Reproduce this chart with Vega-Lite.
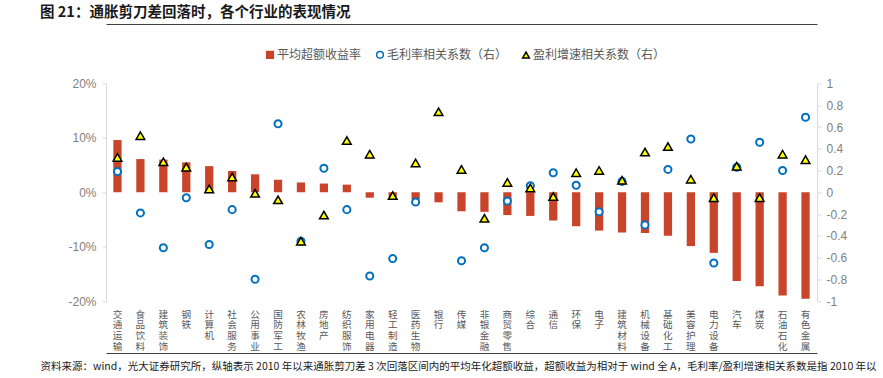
{
  "$schema": "https://vega.github.io/schema/vega-lite/v6.json",
  "width": 711,
  "height": 217.5,
  "autosize": "none",
  "padding": {"left": 106, "top": 83.5, "right": 66, "bottom": 77},
  "background": "white",
  "config": {
    "view": {"stroke": null},
    "font": "Noto Sans CJK SC",
    "legend": {
      "orient": "none",
      "direction": "horizontal",
      "legendX": 158,
      "legendY": -35,
      "title": null,
      "labelFontSize": 12,
      "labelColor": "#595959",
      "labelFont": "Noto Sans CJK SC",
      "symbolSize": 45,
      "symbolStrokeWidth": 1.5,
      "columnPadding": 11,
      "labelOffset": 1
    }
  },
  "title": {
    "text": "图 21：通胀剪刀差回落时，各个行业的表现情况",
    "anchor": "start",
    "frame": "group",
    "dx": -66,
    "offset": 4,
    "fontSize": 14.5,
    "fontWeight": "bold",
    "color": "#1a1a1a",
    "font": "Noto Sans CJK SC"
  },
  "data": {
    "values": [
      {"industry": "交通运输", "excess": 0.096, "gm": 0.19, "profit": 0.32},
      {"industry": "食品饮料", "excess": 0.061, "gm": -0.19, "profit": 0.52},
      {"industry": "建筑装饰", "excess": 0.060, "gm": -0.51, "profit": 0.28},
      {"industry": "钢铁", "excess": 0.055, "gm": -0.05, "profit": 0.23},
      {"industry": "计算机", "excess": 0.048, "gm": -0.48, "profit": 0.03},
      {"industry": "社会服务", "excess": 0.039, "gm": -0.16, "profit": 0.14},
      {"industry": "公用事业", "excess": 0.033, "gm": -0.80, "profit": -0.01},
      {"industry": "国防军工", "excess": 0.023, "gm": 0.63, "profit": -0.07},
      {"industry": "农林牧渔", "excess": 0.018, "gm": -0.45, "profit": -0.45},
      {"industry": "房地产", "excess": 0.016, "gm": 0.22, "profit": -0.21},
      {"industry": "纺织服饰", "excess": 0.014, "gm": -0.16, "profit": 0.475},
      {"industry": "家用电器", "excess": -0.010, "gm": -0.77, "profit": 0.35},
      {"industry": "轻工制造", "excess": -0.008, "gm": -0.61, "profit": -0.03},
      {"industry": "医药生物", "excess": -0.013, "gm": -0.09, "profit": 0.27},
      {"industry": "银行", "excess": -0.0185, "gm": null, "profit": 0.74},
      {"industry": "传媒", "excess": -0.035, "gm": -0.63, "profit": 0.21},
      {"industry": "非银金融", "excess": -0.036, "gm": -0.51, "profit": -0.24},
      {"industry": "商贸零售", "excess": -0.042, "gm": -0.08, "profit": 0.09},
      {"industry": "综合", "excess": -0.0435, "gm": 0.06, "profit": 0.04},
      {"industry": "通信", "excess": -0.052, "gm": 0.18, "profit": -0.04},
      {"industry": "环保", "excess": -0.0625, "gm": 0.065, "profit": 0.18},
      {"industry": "电子", "excess": -0.0705, "gm": -0.18, "profit": 0.20},
      {"industry": "建筑材料", "excess": -0.074, "gm": 0.10, "profit": 0.11},
      {"industry": "机械设备", "excess": -0.075, "gm": -0.30, "profit": 0.37},
      {"industry": "基础化工", "excess": -0.080, "gm": 0.21, "profit": 0.42},
      {"industry": "美容护理", "excess": -0.099, "gm": 0.49, "profit": 0.12},
      {"industry": "电力设备", "excess": -0.1115, "gm": -0.65, "profit": -0.05},
      {"industry": "汽车", "excess": -0.163, "gm": 0.23, "profit": 0.24},
      {"industry": "煤炭", "excess": -0.173, "gm": 0.46, "profit": -0.05},
      {"industry": "石油石化", "excess": -0.190, "gm": 0.20, "profit": 0.35},
      {"industry": "有色金属", "excess": -0.196, "gm": 0.69, "profit": 0.30}
    ]
  },
  "transform": [
    {"fold": ["excess", "gm", "profit"], "as": ["series", "value"]},
    {"filter": "isValid(datum.value)"}
  ],
  "encoding": {
    "x": {
      "field": "industry",
      "type": "nominal",
      "sort": null,
      "scale": {"paddingInner": 0.64, "paddingOuter": 0.32}
    }
  },
  "layer": [
    {
      "layer": [
        {
          "mark": {"type": "rule", "color": "#d9d9d9", "strokeWidth": 1},
          "encoding": {"y": {"datum": 0, "type": "quantitative"}}
        },
        {
          "transform": [{"filter": "datum.series === 'excess'"}],
          "mark": {"type": "bar"},
          "encoding": {
            "x": {
              "field": "industry",
              "type": "nominal",
              "sort": null,
              "axis": {
                "orient": "bottom",
                "offset": 52,
                "domain": true,
                "domainColor": "#404040",
                "domainWidth": 1.2,
                "ticks": false,
                "labelAngle": 0,
                "labelAlign": "center",
                "labelBaseline": "top",
                "labelPadding": -44,
                "labelExpr": "split(datum.label, '')",
                "labelFontSize": 9.6,
                "labelLineHeight": 10.9,
                "labelColor": "#595959",
                "labelFont": "Noto Sans CJK SC",
                "labelOverlap": false,
                "labelBound": false,
                "labelFlush": false,
                "title": "资料来源：wind，光大证券研究所，纵轴表示 2010 年以来通胀剪刀差 3 次回落区间内的平均年化超额收益，超额收益为相对于 wind 全 A，毛利率/盈利增速相关系数是指 2010 年以",
                "titleX": -66,
                "titleY": 13,
                "titleAlign": "left",
                "titleAnchor": "start",
                "titleBaseline": "middle",
                "titleAngle": 0,
                "titleFontSize": 10.5,
                "titleFontWeight": "normal",
                "titleColor": "#1a1a1a",
                "titleFont": "Noto Sans CJK SC"
              }
            },
            "y": {
              "field": "value",
              "type": "quantitative",
              "scale": {"domain": [-0.2, 0.2], "nice": false},
              "axis": {
                "orient": "left",
                "values": [-0.2, -0.15, -0.1, -0.05, 0, 0.05, 0.1, 0.15, 0.2],
                "labelExpr": "round(datum.value * 100) + '%'",
                "grid": false,
                "domainColor": "#d9d9d9",
                "tickColor": "#d9d9d9",
                "tickSize": 4,
                "labelPadding": 6,
                "labelColor": "#7f7f7f",
                "labelFontSize": 12,
                "labelFont": "Liberation Sans",
                "title": null
              }
            },
            "fill": {
              "field": "series",
              "type": "nominal",
              "scale": {"domain": ["excess", "gm", "profit"], "range": ["#C8442A", "#FFFFFF", "#FFFF00"]}
            }
          }
        }
      ]
    },
    {
      "transform": [{"filter": "datum.series !== 'excess'"}],
      "mark": {"type": "point", "filled": false, "opacity": 1},
      "encoding": {
        "x": {
          "field": "industry",
          "type": "nominal",
          "sort": null,
          "axis": {
            "orient": "top",
            "offset": 59.5,
            "domain": true,
            "domainColor": "#404040",
            "domainWidth": 1.2,
            "ticks": false,
            "labels": false,
            "title": null
          }
        },
        "y": {
          "field": "value",
          "type": "quantitative",
          "scale": {"domain": [-1, 1], "nice": false},
          "axis": {
            "orient": "right",
            "values": [-1, -0.8, -0.6, -0.4, -0.2, 0, 0.2, 0.4, 0.6, 0.8, 1],
            "labelExpr": "'' + round(datum.value * 10) / 10",
            "grid": false,
            "domainColor": "#d9d9d9",
            "tickColor": "#d9d9d9",
            "tickSize": 4,
            "labelPadding": 5,
            "labelColor": "#7f7f7f",
            "labelFontSize": 12,
            "labelFont": "Liberation Sans",
            "title": null
          }
        },
        "fill": {
          "field": "series",
          "type": "nominal",
          "scale": {"domain": ["excess", "gm", "profit"], "range": ["#C8442A", "#FFFFFF", "#FFFF00"]},
          "legend": {
            "labelExpr": "datum.label === 'excess' ? '平均超额收益率' : datum.label === 'gm' ? '毛利率相关系数（右）' : '盈利增速相关系数（右）'"
          }
        },
        "stroke": {
          "field": "series",
          "type": "nominal",
          "scale": {"domain": ["excess", "gm", "profit"], "range": ["#C8442A", "#0070C0", "#000000"]},
          "legend": {
            "labelExpr": "datum.label === 'excess' ? '平均超额收益率' : datum.label === 'gm' ? '毛利率相关系数（右）' : '盈利增速相关系数（右）'"
          }
        },
        "shape": {
          "field": "series",
          "type": "nominal",
          "scale": {"domain": ["excess", "gm", "profit"], "range": ["square", "circle", "triangle-up"]},
          "legend": {
            "labelExpr": "datum.label === 'excess' ? '平均超额收益率' : datum.label === 'gm' ? '毛利率相关系数（右）' : '盈利增速相关系数（右）'"
          }
        },
        "size": {"condition": {"test": "datum.series === 'profit'", "value": 75}, "value": 50},
        "strokeWidth": {"condition": {"test": "datum.series === 'profit'", "value": 1.5}, "value": 2}
      }
    }
  ],
  "resolve": {
    "scale": {"y": "independent"},
    "axis": {"x": "independent"}
  }
}
